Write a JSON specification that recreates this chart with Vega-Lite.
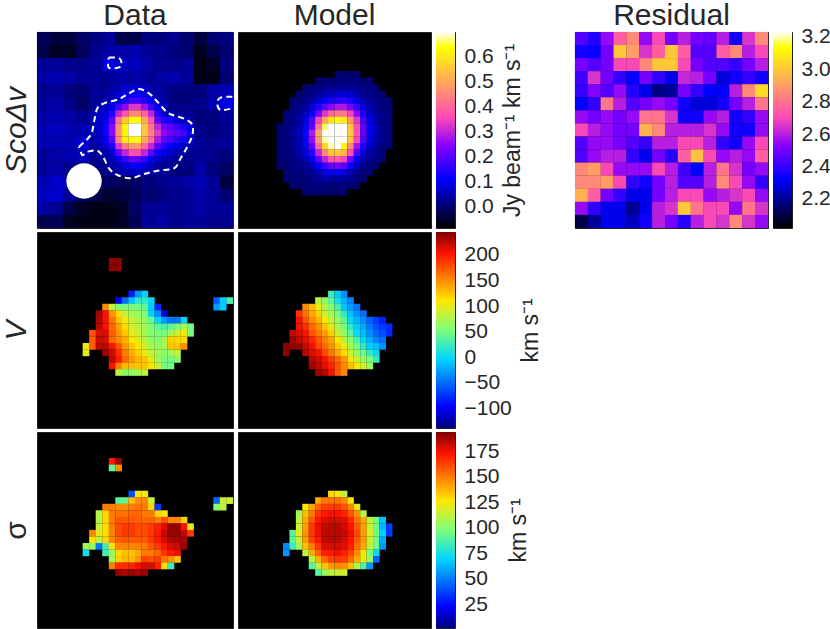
{"$schema":"https://vega.github.io/schema/vega-lite/v6.json","padding":0,"background":"white",
"datasets":{
"bar0":[{"a":-0.088,"b":0.7}],"barr":[{"a":2.02,"b":3.23}],"barv":[{"a":-139,"b":245}],"bars":[{"a":1.5,"b":194}],
"beam":[{"x":6.7,"y":22.3}],
"contour":[{"c":1,"o":1,"x":5.93,"y":17.05},{"c":1,"o":2,"x":7.72,"y":15.27},{"c":1,"o":3,"x":8.23,"y":13.23},{"c":1,"o":4,"x":8.74,"y":11.18},{"c":1,"o":5,"x":9.76,"y":10.42},{"c":1,"o":6,"x":12.05,"y":9.76},{"c":1,"o":7,"x":13.58,"y":8.89},{"c":1,"o":8,"x":15.11,"y":8.23},{"c":1,"o":9,"x":16.64,"y":8.89},{"c":1,"o":10,"x":17.92,"y":10.16},{"c":1,"o":11,"x":19.2,"y":11.59},{"c":1,"o":12,"x":20.22,"y":12.2},{"c":1,"o":13,"x":22.26,"y":12.87},{"c":1,"o":14,"x":23.28,"y":13.74},{"c":1,"o":15,"x":23.28,"y":15.27},{"c":1,"o":16,"x":22.51,"y":17.05},{"c":1,"o":17,"x":21.49,"y":18.84},{"c":1,"o":18,"x":20.47,"y":20.37},{"c":1,"o":19,"x":17.92,"y":20.73},{"c":1,"o":20,"x":15.88,"y":21.24},{"c":1,"o":21,"x":13.84,"y":21.9},{"c":1,"o":22,"x":11.8,"y":21.39},{"c":1,"o":23,"x":10.52,"y":20.37},{"c":1,"o":24,"x":9.61,"y":18.58},{"c":1,"o":25,"x":8.74,"y":17.66},{"c":1,"o":26,"x":7.21,"y":17.82},{"c":1,"o":27,"x":6.44,"y":18.33},{"c":1,"o":28,"x":5.93,"y":17.05},
{"c":2,"o":1,"x":10.5,"y":3.4},{"c":2,"o":2,"x":12.15,"y":3.55},{"c":2,"o":3,"x":12.3,"y":4.8},{"c":2,"o":4,"x":10.5,"y":4.96},{"c":2,"o":5,"x":10.5,"y":3.4},
{"c":3,"o":1,"x":29.4,"y":9.4},{"c":3,"o":2,"x":27.6,"y":9.55},{"c":3,"o":3,"x":27.1,"y":10.42},{"c":3,"o":4,"x":27.6,"y":11.44},{"c":3,"o":5,"x":29.4,"y":11.18}],
"mom0c":[
{"x":0.5,"y":0.5,"v":-0.02},{"x":2.5,"y":0.5,"v":-0.04},{"x":4.5,"y":0.5,"v":-0.04},{"x":6.5,"y":0.5,"v":-0.01},{"x":8.5,"y":0.5,"v":0.01},{"x":10.5,"y":0.5,"v":0.03},{"x":12.5,"y":0.5,"v":-0.03},{"x":14.5,"y":0.5,"v":-0.03},{"x":16.5,"y":0.5,"v":0.01},{"x":18.5,"y":0.5,"v":0.01},{"x":20.5,"y":0.5,"v":0.02},{"x":22.5,"y":0.5,"v":0},{"x":24.5,"y":0.5,"v":-0.04},{"x":26.5,"y":0.5,"v":0},{"x":28.5,"y":0.5,"v":0.01},
{"x":0.5,"y":2.5,"v":-0.03},{"x":2.5,"y":2.5,"v":-0.06},{"x":4.5,"y":2.5,"v":-0.06},{"x":6.5,"y":2.5,"v":-0.02},{"x":8.5,"y":2.5,"v":0.02},{"x":10.5,"y":2.5,"v":0.04},{"x":12.5,"y":2.5,"v":0.04},{"x":14.5,"y":2.5,"v":0.05},{"x":16.5,"y":2.5,"v":0.03},{"x":18.5,"y":2.5,"v":0.02},{"x":20.5,"y":2.5,"v":0.01},{"x":22.5,"y":2.5,"v":0},{"x":24.5,"y":2.5,"v":-0.06},{"x":26.5,"y":2.5,"v":-0.03},{"x":28.5,"y":2.5,"v":0},
{"x":0.5,"y":4.5,"v":0.03},{"x":2.5,"y":4.5,"v":0.03},{"x":4.5,"y":4.5,"v":0.02},{"x":6.5,"y":4.5,"v":0.02},{"x":8.5,"y":4.5,"v":0.03},{"x":10.5,"y":4.5,"v":0.09},{"x":12.5,"y":4.5,"v":0.06},{"x":14.5,"y":4.5,"v":0.06},{"x":16.5,"y":4.5,"v":0.04},{"x":18.5,"y":4.5,"v":0.02},{"x":20.5,"y":4.5,"v":0.02},{"x":22.5,"y":4.5,"v":0.03},{"x":24.5,"y":4.5,"v":-0.07},{"x":26.5,"y":4.5,"v":-0.06},{"x":28.5,"y":4.5,"v":0.01},
{"x":0.5,"y":6.5,"v":0.04},{"x":2.5,"y":6.5,"v":0.05},{"x":4.5,"y":6.5,"v":0.04},{"x":6.5,"y":6.5,"v":0.03},{"x":8.5,"y":6.5,"v":0.03},{"x":10.5,"y":6.5,"v":0.03},{"x":12.5,"y":6.5,"v":0.04},{"x":14.5,"y":6.5,"v":0.04},{"x":16.5,"y":6.5,"v":0.03},{"x":18.5,"y":6.5,"v":0.04},{"x":20.5,"y":6.5,"v":0.05},{"x":22.5,"y":6.5,"v":0.03},{"x":24.5,"y":6.5,"v":-0.07},{"x":26.5,"y":6.5,"v":-0.07},{"x":28.5,"y":6.5,"v":0},
{"x":0.5,"y":8.5,"v":0.02},{"x":2.5,"y":8.5,"v":0.03},{"x":4.5,"y":8.5,"v":0.01},{"x":6.5,"y":8.5,"v":0},{"x":24.5,"y":8.5,"v":0.01},{"x":26.5,"y":8.5,"v":0.04},{"x":28.5,"y":8.5,"v":0.05},
{"x":0.5,"y":10.5,"v":0.03},{"x":2.5,"y":10.5,"v":0.04},{"x":4.5,"y":10.5,"v":0.02},{"x":6.5,"y":10.5,"v":-0.01},{"x":24.5,"y":10.5,"v":0.02},{"x":26.5,"y":10.5,"v":0.05},{"x":28.5,"y":10.5,"v":0.09},
{"x":0.5,"y":12.5,"v":0.04},{"x":2.5,"y":12.5,"v":0.05},{"x":4.5,"y":12.5,"v":0.04},{"x":6.5,"y":12.5,"v":0.03},{"x":24.5,"y":12.5,"v":0.01},{"x":26.5,"y":12.5,"v":0.01},{"x":28.5,"y":12.5,"v":0.03},
{"x":0.5,"y":14.5,"v":0.05},{"x":2.5,"y":14.5,"v":0.06},{"x":4.5,"y":14.5,"v":0.05},{"x":6.5,"y":14.5,"v":0.05},{"x":24.5,"y":14.5,"v":0.02},{"x":26.5,"y":14.5,"v":0.01},{"x":28.5,"y":14.5,"v":0.02},
{"x":0.5,"y":16.5,"v":0.05},{"x":2.5,"y":16.5,"v":0.05},{"x":4.5,"y":16.5,"v":0.05},{"x":6.5,"y":16.5,"v":0.08},{"x":24.5,"y":16.5,"v":0.03},{"x":26.5,"y":16.5,"v":0.02},{"x":28.5,"y":16.5,"v":0.03},
{"x":0.5,"y":18.5,"v":0.03},{"x":2.5,"y":18.5,"v":0.04},{"x":4.5,"y":18.5,"v":0.05},{"x":6.5,"y":18.5,"v":0.06},{"x":24.5,"y":18.5,"v":0.03},{"x":26.5,"y":18.5,"v":0.02},{"x":28.5,"y":18.5,"v":0.01},
{"x":0.5,"y":20.5,"v":0.03},{"x":2.5,"y":20.5,"v":0.04},{"x":4.5,"y":20.5,"v":0.02},{"x":6.5,"y":20.5,"v":0.01},{"x":24.5,"y":20.5,"v":0.04},{"x":26.5,"y":20.5,"v":0.01},{"x":28.5,"y":20.5,"v":-0.01},
{"x":0.5,"y":22.5,"v":0.05},{"x":2.5,"y":22.5,"v":0.07},{"x":4.5,"y":22.5,"v":0.05},{"x":6.5,"y":22.5,"v":0.02},{"x":8.5,"y":22.5,"v":0},{"x":10.5,"y":22.5,"v":-0.01},{"x":12.5,"y":22.5,"v":-0.02},{"x":14.5,"y":22.5,"v":-0.01},{"x":16.5,"y":22.5,"v":0.01},{"x":18.5,"y":22.5,"v":0.02},{"x":20.5,"y":22.5,"v":0.03},{"x":22.5,"y":22.5,"v":0.04},{"x":24.5,"y":22.5,"v":0.05},{"x":26.5,"y":22.5,"v":0.03},{"x":28.5,"y":22.5,"v":-0.04},
{"x":0.5,"y":24.5,"v":0.06},{"x":2.5,"y":24.5,"v":0.07},{"x":4.5,"y":24.5,"v":0.03},{"x":6.5,"y":24.5,"v":-0.01},{"x":8.5,"y":24.5,"v":-0.03},{"x":10.5,"y":24.5,"v":-0.05},{"x":12.5,"y":24.5,"v":-0.04},{"x":14.5,"y":24.5,"v":-0.02},{"x":16.5,"y":24.5,"v":0},{"x":18.5,"y":24.5,"v":0.01},{"x":20.5,"y":24.5,"v":0.02},{"x":22.5,"y":24.5,"v":0.03},{"x":24.5,"y":24.5,"v":0.04},{"x":26.5,"y":24.5,"v":0.03},{"x":28.5,"y":24.5,"v":0},
{"x":0.5,"y":26.5,"v":0.04},{"x":2.5,"y":26.5,"v":0.02},{"x":4.5,"y":26.5,"v":-0.03},{"x":6.5,"y":26.5,"v":-0.06},{"x":8.5,"y":26.5,"v":-0.07},{"x":10.5,"y":26.5,"v":-0.07},{"x":12.5,"y":26.5,"v":-0.06},{"x":14.5,"y":26.5,"v":-0.01},{"x":16.5,"y":26.5,"v":0.03},{"x":18.5,"y":26.5,"v":0.03},{"x":20.5,"y":26.5,"v":0.02},{"x":22.5,"y":26.5,"v":0.03},{"x":24.5,"y":26.5,"v":0.04},{"x":26.5,"y":26.5,"v":0.03},{"x":28.5,"y":26.5,"v":0.03},
{"x":0.5,"y":28.5,"v":-0.03},{"x":2.5,"y":28.5,"v":-0.02},{"x":4.5,"y":28.5,"v":-0.06},{"x":6.5,"y":28.5,"v":-0.07},{"x":8.5,"y":28.5,"v":-0.07},{"x":10.5,"y":28.5,"v":-0.07},{"x":12.5,"y":28.5,"v":-0.06},{"x":14.5,"y":28.5,"v":-0.02},{"x":16.5,"y":28.5,"v":0.03},{"x":18.5,"y":28.5,"v":0.04},{"x":20.5,"y":28.5,"v":0.02},{"x":22.5,"y":28.5,"v":0.03},{"x":24.5,"y":28.5,"v":0.03},{"x":26.5,"y":28.5,"v":0.02},{"x":28.5,"y":28.5,"v":0.02}],
"mom0f":[
{"x":8,"y":8,"v":0.03},{"x":9,"y":8,"v":0.03},{"x":10,"y":8,"v":0.03},{"x":11,"y":8,"v":0.04},{"x":12,"y":8,"v":0.05},{"x":13,"y":8,"v":0.07},{"x":14,"y":8,"v":0.08},{"x":15,"y":8,"v":0.08},{"x":16,"y":8,"v":0.07},{"x":17,"y":8,"v":0.05},{"x":18,"y":8,"v":0.04},{"x":19,"y":8,"v":0.03},{"x":20,"y":8,"v":0.02},{"x":21,"y":8,"v":0.02},{"x":22,"y":8,"v":0.02},{"x":23,"y":8,"v":0.01},
{"x":8,"y":9,"v":0.03},{"x":9,"y":9,"v":0.03},{"x":10,"y":9,"v":0.04},{"x":11,"y":9,"v":0.05},{"x":12,"y":9,"v":0.07},{"x":13,"y":9,"v":0.09},{"x":14,"y":9,"v":0.11},{"x":15,"y":9,"v":0.11},{"x":16,"y":9,"v":0.09},{"x":17,"y":9,"v":0.06},{"x":18,"y":9,"v":0.04},{"x":19,"y":9,"v":0.03},{"x":20,"y":9,"v":0.02},{"x":21,"y":9,"v":0.01},{"x":22,"y":9,"v":0.01},{"x":23,"y":9,"v":0.01},
{"x":8,"y":10,"v":0.03},{"x":9,"y":10,"v":0.03},{"x":10,"y":10,"v":0.05},{"x":11,"y":10,"v":0.07},{"x":12,"y":10,"v":0.09},{"x":13,"y":10,"v":0.13},{"x":14,"y":10,"v":0.17},{"x":15,"y":10,"v":0.17},{"x":16,"y":10,"v":0.14},{"x":17,"y":10,"v":0.11},{"x":18,"y":10,"v":0.07},{"x":19,"y":10,"v":0.04},{"x":20,"y":10,"v":0.02},{"x":21,"y":10,"v":0.01},{"x":22,"y":10,"v":0.01},{"x":23,"y":10,"v":0.01},
{"x":8,"y":11,"v":0.03},{"x":9,"y":11,"v":0.05},{"x":10,"y":11,"v":0.07},{"x":11,"y":11,"v":0.09},{"x":12,"y":11,"v":0.18},{"x":13,"y":11,"v":0.25},{"x":14,"y":11,"v":0.33},{"x":15,"y":11,"v":0.33},{"x":16,"y":11,"v":0.27},{"x":17,"y":11,"v":0.17},{"x":18,"y":11,"v":0.1},{"x":19,"y":11,"v":0.06},{"x":20,"y":11,"v":0.03},{"x":21,"y":11,"v":0.02},{"x":22,"y":11,"v":0.02},{"x":23,"y":11,"v":0.02},
{"x":8,"y":12,"v":0.04},{"x":9,"y":12,"v":0.06},{"x":10,"y":12,"v":0.09},{"x":11,"y":12,"v":0.14},{"x":12,"y":12,"v":0.3},{"x":13,"y":12,"v":0.37},{"x":14,"y":12,"v":0.45},{"x":15,"y":12,"v":0.45},{"x":16,"y":12,"v":0.4},{"x":17,"y":12,"v":0.3},{"x":18,"y":12,"v":0.15},{"x":19,"y":12,"v":0.07},{"x":20,"y":12,"v":0.05},{"x":21,"y":12,"v":0.04},{"x":22,"y":12,"v":0.03},{"x":23,"y":12,"v":0.03},
{"x":8,"y":13,"v":0.05},{"x":9,"y":13,"v":0.07},{"x":10,"y":13,"v":0.1},{"x":11,"y":13,"v":0.2},{"x":12,"y":13,"v":0.42},{"x":13,"y":13,"v":0.55},{"x":14,"y":13,"v":0.63},{"x":15,"y":13,"v":0.63},{"x":16,"y":13,"v":0.5},{"x":17,"y":13,"v":0.37},{"x":18,"y":13,"v":0.2},{"x":19,"y":13,"v":0.14},{"x":20,"y":13,"v":0.12},{"x":21,"y":13,"v":0.08},{"x":22,"y":13,"v":0.06},{"x":23,"y":13,"v":0.04},
{"x":8,"y":14,"v":0.05},{"x":9,"y":14,"v":0.07},{"x":10,"y":14,"v":0.12},{"x":11,"y":14,"v":0.25},{"x":12,"y":14,"v":0.47},{"x":13,"y":14,"v":0.62},{"x":14,"y":14,"v":0.7},{"x":15,"y":14,"v":0.7},{"x":16,"y":14,"v":0.55},{"x":17,"y":14,"v":0.42},{"x":18,"y":14,"v":0.3},{"x":19,"y":14,"v":0.22},{"x":20,"y":14,"v":0.2},{"x":21,"y":14,"v":0.17},{"x":22,"y":14,"v":0.13},{"x":23,"y":14,"v":0.08},
{"x":8,"y":15,"v":0.05},{"x":9,"y":15,"v":0.07},{"x":10,"y":15,"v":0.12},{"x":11,"y":15,"v":0.25},{"x":12,"y":15,"v":0.47},{"x":13,"y":15,"v":0.62},{"x":14,"y":15,"v":0.7},{"x":15,"y":15,"v":0.7},{"x":16,"y":15,"v":0.55},{"x":17,"y":15,"v":0.44},{"x":18,"y":15,"v":0.33},{"x":19,"y":15,"v":0.25},{"x":20,"y":15,"v":0.22},{"x":21,"y":15,"v":0.2},{"x":22,"y":15,"v":0.17},{"x":23,"y":15,"v":0.1},
{"x":8,"y":16,"v":0.04},{"x":9,"y":16,"v":0.06},{"x":10,"y":16,"v":0.1},{"x":11,"y":16,"v":0.2},{"x":12,"y":16,"v":0.45},{"x":13,"y":16,"v":0.6},{"x":14,"y":16,"v":0.63},{"x":15,"y":16,"v":0.63},{"x":16,"y":16,"v":0.5},{"x":17,"y":16,"v":0.4},{"x":18,"y":16,"v":0.28},{"x":19,"y":16,"v":0.2},{"x":20,"y":16,"v":0.18},{"x":21,"y":16,"v":0.15},{"x":22,"y":16,"v":0.12},{"x":23,"y":16,"v":0.07},
{"x":8,"y":17,"v":0.03},{"x":9,"y":17,"v":0.05},{"x":10,"y":17,"v":0.08},{"x":11,"y":17,"v":0.14},{"x":12,"y":17,"v":0.32},{"x":13,"y":17,"v":0.42},{"x":14,"y":17,"v":0.47},{"x":15,"y":17,"v":0.47},{"x":16,"y":17,"v":0.4},{"x":17,"y":17,"v":0.3},{"x":18,"y":17,"v":0.2},{"x":19,"y":17,"v":0.14},{"x":20,"y":17,"v":0.11},{"x":21,"y":17,"v":0.09},{"x":22,"y":17,"v":0.07},{"x":23,"y":17,"v":0.04},
{"x":8,"y":18,"v":0.03},{"x":9,"y":18,"v":0.03},{"x":10,"y":18,"v":0.05},{"x":11,"y":18,"v":0.08},{"x":12,"y":18,"v":0.2},{"x":13,"y":18,"v":0.3},{"x":14,"y":18,"v":0.36},{"x":15,"y":18,"v":0.36},{"x":16,"y":18,"v":0.3},{"x":17,"y":18,"v":0.2},{"x":18,"y":18,"v":0.12},{"x":19,"y":18,"v":0.09},{"x":20,"y":18,"v":0.07},{"x":21,"y":18,"v":0.05},{"x":22,"y":18,"v":0.04},{"x":23,"y":18,"v":0.03},
{"x":8,"y":19,"v":0.02},{"x":9,"y":19,"v":0.03},{"x":10,"y":19,"v":0.04},{"x":11,"y":19,"v":0.05},{"x":12,"y":19,"v":0.1},{"x":13,"y":19,"v":0.16},{"x":14,"y":19,"v":0.21},{"x":15,"y":19,"v":0.2},{"x":16,"y":19,"v":0.16},{"x":17,"y":19,"v":0.1},{"x":18,"y":19,"v":0.07},{"x":19,"y":19,"v":0.05},{"x":20,"y":19,"v":0.04},{"x":21,"y":19,"v":0.03},{"x":22,"y":19,"v":0.02},{"x":23,"y":19,"v":0.02},
{"x":8,"y":20,"v":0.02},{"x":9,"y":20,"v":0.02},{"x":10,"y":20,"v":0.03},{"x":11,"y":20,"v":0.04},{"x":12,"y":20,"v":0.05},{"x":13,"y":20,"v":0.08},{"x":14,"y":20,"v":0.11},{"x":15,"y":20,"v":0.11},{"x":16,"y":20,"v":0.08},{"x":17,"y":20,"v":0.06},{"x":18,"y":20,"v":0.04},{"x":19,"y":20,"v":0.03},{"x":20,"y":20,"v":0.03},{"x":21,"y":20,"v":0.02},{"x":22,"y":20,"v":0.02},{"x":23,"y":20,"v":0.01},
{"x":8,"y":21,"v":0},{"x":9,"y":21,"v":0.01},{"x":10,"y":21,"v":0.02},{"x":11,"y":21,"v":0.03},{"x":12,"y":21,"v":0.04},{"x":13,"y":21,"v":0.05},{"x":14,"y":21,"v":0.06},{"x":15,"y":21,"v":0.06},{"x":16,"y":21,"v":0.05},{"x":17,"y":21,"v":0.04},{"x":18,"y":21,"v":0.03},{"x":19,"y":21,"v":0.03},{"x":20,"y":21,"v":0.02},{"x":21,"y":21,"v":0.01},{"x":22,"y":21,"v":0.01},{"x":23,"y":21,"v":0}],
"mom0m":[
{"x":15,"y":6,"v":0},{"x":16,"y":6,"v":0},{"x":17,"y":6,"v":0},{"x":18,"y":6,"v":0},
{"x":12,"y":7,"v":0},{"x":13,"y":7,"v":0},{"x":14,"y":7,"v":0.01},{"x":15,"y":7,"v":0.01},{"x":16,"y":7,"v":0.01},{"x":17,"y":7,"v":0.01},{"x":18,"y":7,"v":0.01},{"x":19,"y":7,"v":0},{"x":20,"y":7,"v":0},
{"x":10,"y":8,"v":0},{"x":11,"y":8,"v":0.01},{"x":12,"y":8,"v":0.01},{"x":13,"y":8,"v":0.02},{"x":14,"y":8,"v":0.03},{"x":15,"y":8,"v":0.03},{"x":16,"y":8,"v":0.03},{"x":17,"y":8,"v":0.03},{"x":18,"y":8,"v":0.02},{"x":19,"y":8,"v":0.02},{"x":20,"y":8,"v":0.01},{"x":21,"y":8,"v":0},
{"x":9,"y":9,"v":0},{"x":10,"y":9,"v":0.01},{"x":11,"y":9,"v":0.02},{"x":12,"y":9,"v":0.03},{"x":13,"y":9,"v":0.05},{"x":14,"y":9,"v":0.07},{"x":15,"y":9,"v":0.08},{"x":16,"y":9,"v":0.08},{"x":17,"y":9,"v":0.07},{"x":18,"y":9,"v":0.05},{"x":19,"y":9,"v":0.03},{"x":20,"y":9,"v":0.02},{"x":21,"y":9,"v":0.01},{"x":22,"y":9,"v":0},
{"x":8,"y":10,"v":0},{"x":9,"y":10,"v":0.01},{"x":10,"y":10,"v":0.02},{"x":11,"y":10,"v":0.04},{"x":12,"y":10,"v":0.07},{"x":13,"y":10,"v":0.1},{"x":14,"y":10,"v":0.13},{"x":15,"y":10,"v":0.15},{"x":16,"y":10,"v":0.15},{"x":17,"y":10,"v":0.13},{"x":18,"y":10,"v":0.09},{"x":19,"y":10,"v":0.06},{"x":20,"y":10,"v":0.03},{"x":21,"y":10,"v":0.02},{"x":22,"y":10,"v":0.01},{"x":23,"y":10,"v":0},
{"x":8,"y":11,"v":0.01},{"x":9,"y":11,"v":0.02},{"x":10,"y":11,"v":0.04},{"x":11,"y":11,"v":0.08},{"x":12,"y":11,"v":0.14},{"x":13,"y":11,"v":0.2},{"x":14,"y":11,"v":0.25},{"x":15,"y":11,"v":0.28},{"x":16,"y":11,"v":0.28},{"x":17,"y":11,"v":0.23},{"x":18,"y":11,"v":0.16},{"x":19,"y":11,"v":0.09},{"x":20,"y":11,"v":0.05},{"x":21,"y":11,"v":0.02},{"x":22,"y":11,"v":0.01},{"x":23,"y":11,"v":0.01},
{"x":7,"y":12,"v":0},{"x":8,"y":12,"v":0.01},{"x":9,"y":12,"v":0.03},{"x":10,"y":12,"v":0.06},{"x":11,"y":12,"v":0.12},{"x":12,"y":12,"v":0.22},{"x":13,"y":12,"v":0.33},{"x":14,"y":12,"v":0.4},{"x":15,"y":12,"v":0.43},{"x":16,"y":12,"v":0.43},{"x":17,"y":12,"v":0.35},{"x":18,"y":12,"v":0.25},{"x":19,"y":12,"v":0.14},{"x":20,"y":12,"v":0.07},{"x":21,"y":12,"v":0.03},{"x":22,"y":12,"v":0.02},{"x":23,"y":12,"v":0.01},
{"x":7,"y":13,"v":0.01},{"x":8,"y":13,"v":0.02},{"x":9,"y":13,"v":0.04},{"x":10,"y":13,"v":0.09},{"x":11,"y":13,"v":0.18},{"x":12,"y":13,"v":0.35},{"x":13,"y":13,"v":0.5},{"x":14,"y":13,"v":0.6},{"x":15,"y":13,"v":0.63},{"x":16,"y":13,"v":0.6},{"x":17,"y":13,"v":0.48},{"x":18,"y":13,"v":0.33},{"x":19,"y":13,"v":0.18},{"x":20,"y":13,"v":0.09},{"x":21,"y":13,"v":0.04},{"x":22,"y":13,"v":0.02},{"x":23,"y":13,"v":0.01},
{"x":6,"y":14,"v":0},{"x":7,"y":14,"v":0.01},{"x":8,"y":14,"v":0.02},{"x":9,"y":14,"v":0.05},{"x":10,"y":14,"v":0.1},{"x":11,"y":14,"v":0.2},{"x":12,"y":14,"v":0.42},{"x":13,"y":14,"v":0.66},{"x":14,"y":14,"v":0.7},{"x":15,"y":14,"v":0.72},{"x":16,"y":14,"v":0.7},{"x":17,"y":14,"v":0.55},{"x":18,"y":14,"v":0.36},{"x":19,"y":14,"v":0.21},{"x":20,"y":14,"v":0.1},{"x":21,"y":14,"v":0.05},{"x":22,"y":14,"v":0.02},{"x":23,"y":14,"v":0.01},
{"x":6,"y":15,"v":0},{"x":7,"y":15,"v":0.01},{"x":8,"y":15,"v":0.03},{"x":9,"y":15,"v":0.06},{"x":10,"y":15,"v":0.12},{"x":11,"y":15,"v":0.28},{"x":12,"y":15,"v":0.5},{"x":13,"y":15,"v":0.7},{"x":14,"y":15,"v":0.72},{"x":15,"y":15,"v":0.75},{"x":16,"y":15,"v":0.72},{"x":17,"y":15,"v":0.56},{"x":18,"y":15,"v":0.37},{"x":19,"y":15,"v":0.21},{"x":20,"y":15,"v":0.1},{"x":21,"y":15,"v":0.05},{"x":22,"y":15,"v":0.02},{"x":23,"y":15,"v":0.01},
{"x":6,"y":16,"v":0},{"x":7,"y":16,"v":0.01},{"x":8,"y":16,"v":0.02},{"x":9,"y":16,"v":0.05},{"x":10,"y":16,"v":0.11},{"x":11,"y":16,"v":0.26},{"x":12,"y":16,"v":0.48},{"x":13,"y":16,"v":0.68},{"x":14,"y":16,"v":0.7},{"x":15,"y":16,"v":0.74},{"x":16,"y":16,"v":0.71},{"x":17,"y":16,"v":0.55},{"x":18,"y":16,"v":0.35},{"x":19,"y":16,"v":0.19},{"x":20,"y":16,"v":0.09},{"x":21,"y":16,"v":0.04},{"x":22,"y":16,"v":0.02},{"x":23,"y":16,"v":0.01},
{"x":6,"y":17,"v":0},{"x":7,"y":17,"v":0.01},{"x":8,"y":17,"v":0.02},{"x":9,"y":17,"v":0.05},{"x":10,"y":17,"v":0.1},{"x":11,"y":17,"v":0.2},{"x":12,"y":17,"v":0.4},{"x":13,"y":17,"v":0.58},{"x":14,"y":17,"v":0.68},{"x":15,"y":17,"v":0.7},{"x":16,"y":17,"v":0.62},{"x":17,"y":17,"v":0.45},{"x":18,"y":17,"v":0.27},{"x":19,"y":17,"v":0.14},{"x":20,"y":17,"v":0.07},{"x":21,"y":17,"v":0.03},{"x":22,"y":17,"v":0.01},{"x":23,"y":17,"v":0},
{"x":6,"y":18,"v":0},{"x":7,"y":18,"v":0.01},{"x":8,"y":18,"v":0.02},{"x":9,"y":18,"v":0.04},{"x":10,"y":18,"v":0.08},{"x":11,"y":18,"v":0.15},{"x":12,"y":18,"v":0.3},{"x":13,"y":18,"v":0.45},{"x":14,"y":18,"v":0.55},{"x":15,"y":18,"v":0.55},{"x":16,"y":18,"v":0.52},{"x":17,"y":18,"v":0.36},{"x":18,"y":18,"v":0.19},{"x":19,"y":18,"v":0.09},{"x":20,"y":18,"v":0.04},{"x":21,"y":18,"v":0.02},{"x":22,"y":18,"v":0.01},
{"x":6,"y":19,"v":0},{"x":7,"y":19,"v":0.01},{"x":8,"y":19,"v":0.01},{"x":9,"y":19,"v":0.03},{"x":10,"y":19,"v":0.06},{"x":11,"y":19,"v":0.1},{"x":12,"y":19,"v":0.2},{"x":13,"y":19,"v":0.3},{"x":14,"y":19,"v":0.37},{"x":15,"y":19,"v":0.38},{"x":16,"y":19,"v":0.35},{"x":17,"y":19,"v":0.22},{"x":18,"y":19,"v":0.11},{"x":19,"y":19,"v":0.05},{"x":20,"y":19,"v":0.03},{"x":21,"y":19,"v":0.01},{"x":22,"y":19,"v":0},
{"x":6,"y":20,"v":0},{"x":7,"y":20,"v":0},{"x":8,"y":20,"v":0.01},{"x":9,"y":20,"v":0.02},{"x":10,"y":20,"v":0.03},{"x":11,"y":20,"v":0.06},{"x":12,"y":20,"v":0.11},{"x":13,"y":20,"v":0.17},{"x":14,"y":20,"v":0.21},{"x":15,"y":20,"v":0.23},{"x":16,"y":20,"v":0.2},{"x":17,"y":20,"v":0.12},{"x":18,"y":20,"v":0.06},{"x":19,"y":20,"v":0.03},{"x":20,"y":20,"v":0.01},{"x":21,"y":20,"v":0},
{"x":7,"y":21,"v":0},{"x":8,"y":21,"v":0.01},{"x":9,"y":21,"v":0.01},{"x":10,"y":21,"v":0.02},{"x":11,"y":21,"v":0.03},{"x":12,"y":21,"v":0.05},{"x":13,"y":21,"v":0.08},{"x":14,"y":21,"v":0.1},{"x":15,"y":21,"v":0.1},{"x":16,"y":21,"v":0.08},{"x":17,"y":21,"v":0.05},{"x":18,"y":21,"v":0.03},{"x":19,"y":21,"v":0.01},{"x":20,"y":21,"v":0},
{"x":7,"y":22,"v":0},{"x":8,"y":22,"v":0},{"x":9,"y":22,"v":0.01},{"x":10,"y":22,"v":0.01},{"x":11,"y":22,"v":0.02},{"x":12,"y":22,"v":0.03},{"x":13,"y":22,"v":0.04},{"x":14,"y":22,"v":0.04},{"x":15,"y":22,"v":0.04},{"x":16,"y":22,"v":0.03},{"x":17,"y":22,"v":0.02},{"x":18,"y":22,"v":0.01},{"x":19,"y":22,"v":0},
{"x":8,"y":23,"v":0},{"x":9,"y":23,"v":0},{"x":10,"y":23,"v":0.01},{"x":11,"y":23,"v":0.01},{"x":12,"y":23,"v":0.01},{"x":13,"y":23,"v":0.01},{"x":14,"y":23,"v":0.01},{"x":15,"y":23,"v":0.01},{"x":16,"y":23,"v":0.01},{"x":17,"y":23,"v":0},{"x":18,"y":23,"v":0},
{"x":10,"y":24,"v":0},{"x":11,"y":24,"v":0},{"x":12,"y":24,"v":0},{"x":13,"y":24,"v":0},{"x":14,"y":24,"v":0},{"x":15,"y":24,"v":0},{"x":16,"y":24,"v":0}],
"res":[
{"x":0.5,"y":0.5,"v":2.45},{"x":2.5,"y":0.5,"v":2.38},{"x":4.5,"y":0.5,"v":2.55},{"x":6.5,"y":0.5,"v":2.75},{"x":8.5,"y":0.5,"v":2.85},{"x":10.5,"y":0.5,"v":2.55},{"x":12.5,"y":0.5,"v":2.7},{"x":14.5,"y":0.5,"v":2.5},{"x":16.5,"y":0.5,"v":2.6},{"x":18.5,"y":0.5,"v":2.5},{"x":20.5,"y":0.5,"v":2.48},{"x":22.5,"y":0.5,"v":2.6},{"x":24.5,"y":0.5,"v":2.35},{"x":26.5,"y":0.5,"v":2.65},{"x":28.5,"y":0.5,"v":2.85},
{"x":0.5,"y":2.5,"v":2.35},{"x":2.5,"y":2.5,"v":2.33},{"x":4.5,"y":2.5,"v":2.5},{"x":6.5,"y":2.5,"v":3.0},{"x":8.5,"y":2.5,"v":2.9},{"x":10.5,"y":2.5,"v":2.65},{"x":12.5,"y":2.5,"v":2.75},{"x":14.5,"y":2.5,"v":3.0},{"x":16.5,"y":2.5,"v":2.75},{"x":18.5,"y":2.5,"v":2.45},{"x":20.5,"y":2.5,"v":2.45},{"x":22.5,"y":2.5,"v":2.75},{"x":24.5,"y":2.5,"v":2.85},{"x":26.5,"y":2.5,"v":2.6},{"x":28.5,"y":2.5,"v":2.7},
{"x":0.5,"y":4.5,"v":2.5},{"x":2.5,"y":4.5,"v":2.45},{"x":4.5,"y":4.5,"v":2.5},{"x":6.5,"y":4.5,"v":2.7},{"x":8.5,"y":4.5,"v":2.7},{"x":10.5,"y":4.5,"v":2.85},{"x":12.5,"y":4.5,"v":3.0},{"x":14.5,"y":4.5,"v":3.0},{"x":16.5,"y":4.5,"v":2.7},{"x":18.5,"y":4.5,"v":2.5},{"x":20.5,"y":4.5,"v":2.45},{"x":22.5,"y":4.5,"v":2.45},{"x":24.5,"y":4.5,"v":2.4},{"x":26.5,"y":4.5,"v":2.5},{"x":28.5,"y":4.5,"v":2.6},
{"x":0.5,"y":6.5,"v":2.42},{"x":2.5,"y":6.5,"v":2.65},{"x":4.5,"y":6.5,"v":2.5},{"x":6.5,"y":6.5,"v":2.4},{"x":8.5,"y":6.5,"v":2.33},{"x":10.5,"y":6.5,"v":2.5},{"x":12.5,"y":6.5,"v":2.4},{"x":14.5,"y":6.5,"v":2.3},{"x":16.5,"y":6.5,"v":2.62},{"x":18.5,"y":6.5,"v":2.6},{"x":20.5,"y":6.5,"v":2.5},{"x":22.5,"y":6.5,"v":2.28},{"x":24.5,"y":6.5,"v":2.35},{"x":26.5,"y":6.5,"v":2.4},{"x":28.5,"y":6.5,"v":2.35},
{"x":0.5,"y":8.5,"v":2.4},{"x":2.5,"y":8.5,"v":2.52},{"x":4.5,"y":8.5,"v":2.45},{"x":6.5,"y":8.5,"v":2.55},{"x":8.5,"y":8.5,"v":2.38},{"x":10.5,"y":8.5,"v":2.3},{"x":12.5,"y":8.5,"v":2.18},{"x":14.5,"y":8.5,"v":2.2},{"x":16.5,"y":8.5,"v":2.5},{"x":18.5,"y":8.5,"v":2.4},{"x":20.5,"y":8.5,"v":2.32},{"x":22.5,"y":8.5,"v":2.32},{"x":24.5,"y":8.5,"v":2.6},{"x":26.5,"y":8.5,"v":2.85},{"x":28.5,"y":8.5,"v":3.05},
{"x":0.5,"y":10.5,"v":2.32},{"x":2.5,"y":10.5,"v":2.4},{"x":4.5,"y":10.5,"v":2.8},{"x":6.5,"y":10.5,"v":2.6},{"x":8.5,"y":10.5,"v":2.45},{"x":10.5,"y":10.5,"v":2.5},{"x":12.5,"y":10.5,"v":2.55},{"x":14.5,"y":10.5,"v":2.5},{"x":16.5,"y":10.5,"v":2.35},{"x":18.5,"y":10.5,"v":2.28},{"x":20.5,"y":10.5,"v":2.28},{"x":22.5,"y":10.5,"v":2.35},{"x":24.5,"y":10.5,"v":2.5},{"x":26.5,"y":10.5,"v":2.6},{"x":28.5,"y":10.5,"v":2.8},
{"x":0.5,"y":12.5,"v":2.55},{"x":2.5,"y":12.5,"v":2.5},{"x":4.5,"y":12.5,"v":2.55},{"x":6.5,"y":12.5,"v":2.5},{"x":8.5,"y":12.5,"v":2.55},{"x":10.5,"y":12.5,"v":2.8},{"x":12.5,"y":12.5,"v":2.8},{"x":14.5,"y":12.5,"v":2.65},{"x":16.5,"y":12.5,"v":2.35},{"x":18.5,"y":12.5,"v":2.35},{"x":20.5,"y":12.5,"v":2.55},{"x":22.5,"y":12.5,"v":2.6},{"x":24.5,"y":12.5,"v":2.35},{"x":26.5,"y":12.5,"v":2.4},{"x":28.5,"y":12.5,"v":2.55},
{"x":0.5,"y":14.5,"v":2.7},{"x":2.5,"y":14.5,"v":2.6},{"x":4.5,"y":14.5,"v":2.55},{"x":6.5,"y":14.5,"v":2.5},{"x":8.5,"y":14.5,"v":2.5},{"x":10.5,"y":14.5,"v":2.95},{"x":12.5,"y":14.5,"v":2.85},{"x":14.5,"y":14.5,"v":2.6},{"x":16.5,"y":14.5,"v":2.6},{"x":18.5,"y":14.5,"v":2.6},{"x":20.5,"y":14.5,"v":2.65},{"x":22.5,"y":14.5,"v":2.55},{"x":24.5,"y":14.5,"v":2.35},{"x":26.5,"y":14.5,"v":2.35},{"x":28.5,"y":14.5,"v":2.55},
{"x":0.5,"y":16.5,"v":2.45},{"x":2.5,"y":16.5,"v":2.55},{"x":4.5,"y":16.5,"v":2.55},{"x":6.5,"y":16.5,"v":2.5},{"x":8.5,"y":16.5,"v":2.45},{"x":10.5,"y":16.5,"v":2.4},{"x":12.5,"y":16.5,"v":2.6},{"x":14.5,"y":16.5,"v":2.6},{"x":16.5,"y":16.5,"v":2.7},{"x":18.5,"y":16.5,"v":2.7},{"x":20.5,"y":16.5,"v":2.6},{"x":22.5,"y":16.5,"v":2.4},{"x":24.5,"y":16.5,"v":2.35},{"x":26.5,"y":16.5,"v":2.55},{"x":28.5,"y":16.5,"v":2.7},
{"x":0.5,"y":18.5,"v":2.45},{"x":2.5,"y":18.5,"v":2.55},{"x":4.5,"y":18.5,"v":2.6},{"x":6.5,"y":18.5,"v":2.6},{"x":8.5,"y":18.5,"v":2.4},{"x":10.5,"y":18.5,"v":2.3},{"x":12.5,"y":18.5,"v":2.5},{"x":14.5,"y":18.5,"v":2.38},{"x":16.5,"y":18.5,"v":2.75},{"x":18.5,"y":18.5,"v":2.98},{"x":20.5,"y":18.5,"v":2.7},{"x":22.5,"y":18.5,"v":2.55},{"x":24.5,"y":18.5,"v":2.6},{"x":26.5,"y":18.5,"v":2.55},{"x":28.5,"y":18.5,"v":2.75},
{"x":0.5,"y":20.5,"v":2.85},{"x":2.5,"y":20.5,"v":2.9},{"x":4.5,"y":20.5,"v":2.7},{"x":6.5,"y":20.5,"v":2.55},{"x":8.5,"y":20.5,"v":2.55},{"x":10.5,"y":20.5,"v":2.55},{"x":12.5,"y":20.5,"v":2.7},{"x":14.5,"y":20.5,"v":2.6},{"x":16.5,"y":20.5,"v":2.42},{"x":18.5,"y":20.5,"v":2.32},{"x":20.5,"y":20.5,"v":2.6},{"x":22.5,"y":20.5,"v":2.8},{"x":24.5,"y":20.5,"v":2.65},{"x":26.5,"y":20.5,"v":2.5},{"x":28.5,"y":20.5,"v":2.55},
{"x":0.5,"y":22.5,"v":2.85},{"x":2.5,"y":22.5,"v":2.85},{"x":4.5,"y":22.5,"v":2.9},{"x":6.5,"y":22.5,"v":2.7},{"x":8.5,"y":22.5,"v":2.4},{"x":10.5,"y":22.5,"v":2.35},{"x":12.5,"y":22.5,"v":2.5},{"x":14.5,"y":22.5,"v":2.6},{"x":16.5,"y":22.5,"v":2.45},{"x":18.5,"y":22.5,"v":2.45},{"x":20.5,"y":22.5,"v":2.6},{"x":22.5,"y":22.5,"v":2.85},{"x":24.5,"y":22.5,"v":2.7},{"x":26.5,"y":22.5,"v":2.55},{"x":28.5,"y":22.5,"v":2.4},
{"x":0.5,"y":24.5,"v":2.95},{"x":2.5,"y":24.5,"v":2.75},{"x":4.5,"y":24.5,"v":2.5},{"x":6.5,"y":24.5,"v":2.4},{"x":8.5,"y":24.5,"v":2.3},{"x":10.5,"y":24.5,"v":2.3},{"x":12.5,"y":24.5,"v":2.5},{"x":14.5,"y":24.5,"v":2.6},{"x":16.5,"y":24.5,"v":2.7},{"x":18.5,"y":24.5,"v":2.7},{"x":20.5,"y":24.5,"v":2.55},{"x":22.5,"y":24.5,"v":2.6},{"x":24.5,"y":24.5,"v":2.65},{"x":26.5,"y":24.5,"v":2.7},{"x":28.5,"y":24.5,"v":2.55},
{"x":0.5,"y":26.5,"v":2.55},{"x":2.5,"y":26.5,"v":2.4},{"x":4.5,"y":26.5,"v":2.3},{"x":6.5,"y":26.5,"v":2.3},{"x":8.5,"y":26.5,"v":2.2},{"x":10.5,"y":26.5,"v":2.3},{"x":12.5,"y":26.5,"v":2.6},{"x":14.5,"y":26.5,"v":2.65},{"x":16.5,"y":26.5,"v":3.0},{"x":18.5,"y":26.5,"v":2.8},{"x":20.5,"y":26.5,"v":2.7},{"x":22.5,"y":26.5,"v":2.7},{"x":24.5,"y":26.5,"v":2.55},{"x":26.5,"y":26.5,"v":2.8},{"x":28.5,"y":26.5,"v":2.65},
{"x":0.5,"y":28.5,"v":2.1},{"x":2.5,"y":28.5,"v":2.2},{"x":4.5,"y":28.5,"v":2.3},{"x":6.5,"y":28.5,"v":2.3},{"x":8.5,"y":28.5,"v":2.25},{"x":10.5,"y":28.5,"v":2.35},{"x":12.5,"y":28.5,"v":2.6},{"x":14.5,"y":28.5,"v":2.5},{"x":16.5,"y":28.5,"v":2.38},{"x":18.5,"y":28.5,"v":2.6},{"x":20.5,"y":28.5,"v":2.7},{"x":22.5,"y":28.5,"v":2.65},{"x":24.5,"y":28.5,"v":2.85},{"x":26.5,"y":28.5,"v":2.65},{"x":28.5,"y":28.5,"v":2.55}],
"obs":[
{"x":11,"y":4,"v":240,"s":172},{"x":12,"y":4,"v":240,"s":190},{"x":11,"y":5,"v":240,"s":92},{"x":12,"y":5,"v":240,"s":146},
{"x":27,"y":10,"v":-58,"s":45},{"x":28,"y":10,"v":-8,"s":115},{"x":29,"y":10,"v":30,"s":115},{"x":27,"y":11,"v":-30,"s":100},{"x":28,"y":11,"v":-8,"s":112},
{"x":14,"y":9,"v":-85,"s":40},{"x":15,"y":9,"v":-30,"s":125},{"x":16,"y":9,"v":-5,"s":125},
{"x":12,"y":10,"v":-97,"s":90},{"x":13,"y":10,"v":-50,"s":92},{"x":14,"y":10,"v":-12,"s":135},{"x":15,"y":10,"v":20,"s":145},{"x":16,"y":10,"v":20,"s":147},{"x":17,"y":10,"v":-5,"s":115},
{"x":10,"y":11,"v":150,"s":150},{"x":11,"y":11,"v":80,"s":150},{"x":12,"y":11,"v":55,"s":146},{"x":13,"y":11,"v":50,"s":146},{"x":14,"y":11,"v":50,"s":150},{"x":15,"y":11,"v":50,"s":152},{"x":16,"y":11,"v":40,"s":150},{"x":17,"y":11,"v":-8,"s":130},{"x":18,"y":11,"v":-80,"s":35},
{"x":9,"y":12,"v":235,"s":110},{"x":10,"y":12,"v":205,"s":130},{"x":11,"y":12,"v":145,"s":150},{"x":12,"y":12,"v":115,"s":152},{"x":13,"y":12,"v":85,"s":152},{"x":14,"y":12,"v":70,"s":155},{"x":15,"y":12,"v":65,"s":155},{"x":16,"y":12,"v":55,"s":150},{"x":17,"y":12,"v":-5,"s":150},{"x":18,"y":12,"v":-35,"s":130},{"x":19,"y":12,"v":-110,"s":125},
{"x":9,"y":13,"v":230,"s":110},{"x":10,"y":13,"v":205,"s":130},{"x":11,"y":13,"v":160,"s":150},{"x":12,"y":13,"v":125,"s":158},{"x":13,"y":13,"v":105,"s":158},{"x":14,"y":13,"v":85,"s":158},{"x":15,"y":13,"v":75,"s":156},{"x":16,"y":13,"v":62,"s":155},{"x":17,"y":13,"v":45,"s":155},{"x":18,"y":13,"v":-5,"s":150},{"x":19,"y":13,"v":-30,"s":160},{"x":20,"y":13,"v":-45,"s":148},{"x":21,"y":13,"v":-45,"s":148},{"x":22,"y":13,"v":-5,"s":132},
{"x":9,"y":14,"v":225,"s":115},{"x":10,"y":14,"v":205,"s":128},{"x":11,"y":14,"v":165,"s":150},{"x":12,"y":14,"v":140,"s":160},{"x":13,"y":14,"v":115,"s":165},{"x":14,"y":14,"v":90,"s":165},{"x":15,"y":14,"v":80,"s":160},{"x":16,"y":14,"v":70,"s":160},{"x":17,"y":14,"v":55,"s":165},{"x":18,"y":14,"v":40,"s":170},{"x":19,"y":14,"v":30,"s":178},{"x":20,"y":14,"v":40,"s":190},{"x":21,"y":14,"v":55,"s":190},{"x":22,"y":14,"v":72,"s":174},{"x":23,"y":14,"v":50,"s":122},
{"x":8,"y":15,"v":175,"s":148},{"x":9,"y":15,"v":215,"s":120},{"x":10,"y":15,"v":215,"s":128},{"x":11,"y":15,"v":170,"s":148},{"x":12,"y":15,"v":145,"s":160},{"x":13,"y":15,"v":125,"s":165},{"x":14,"y":15,"v":100,"s":165},{"x":15,"y":15,"v":85,"s":160},{"x":16,"y":15,"v":70,"s":160},{"x":17,"y":15,"v":58,"s":165},{"x":18,"y":15,"v":55,"s":172},{"x":19,"y":15,"v":50,"s":183},{"x":20,"y":15,"v":72,"s":190},{"x":21,"y":15,"v":90,"s":190},{"x":22,"y":15,"v":105,"s":183},{"x":23,"y":15,"v":50,"s":165},
{"x":8,"y":16,"v":170,"s":128},{"x":9,"y":16,"v":220,"s":112},{"x":10,"y":16,"v":215,"s":130},{"x":11,"y":16,"v":165,"s":148},{"x":12,"y":16,"v":150,"s":155},{"x":13,"y":16,"v":135,"s":158},{"x":14,"y":16,"v":110,"s":158},{"x":15,"y":16,"v":95,"s":158},{"x":16,"y":16,"v":78,"s":158},{"x":17,"y":16,"v":62,"s":165},{"x":18,"y":16,"v":58,"s":172},{"x":19,"y":16,"v":70,"s":180},{"x":20,"y":16,"v":120,"s":187},{"x":21,"y":16,"v":115,"s":187},{"x":22,"y":16,"v":115,"s":187},
{"x":7,"y":17,"v":105,"s":105},{"x":8,"y":17,"v":170,"s":105},{"x":9,"y":17,"v":225,"s":48},{"x":10,"y":17,"v":225,"s":85},{"x":11,"y":17,"v":205,"s":128},{"x":12,"y":17,"v":175,"s":148},{"x":13,"y":17,"v":145,"s":148},{"x":14,"y":17,"v":125,"s":148},{"x":15,"y":17,"v":110,"s":148},{"x":16,"y":17,"v":90,"s":150},{"x":17,"y":17,"v":72,"s":158},{"x":18,"y":17,"v":65,"s":165},{"x":19,"y":17,"v":75,"s":172},{"x":20,"y":17,"v":125,"s":180},{"x":21,"y":17,"v":125,"s":182},{"x":22,"y":17,"v":150,"s":190},
{"x":7,"y":18,"v":100,"s":75},{"x":10,"y":18,"v":235,"s":85},{"x":11,"y":18,"v":220,"s":105},{"x":12,"y":18,"v":190,"s":130},{"x":13,"y":18,"v":155,"s":135},{"x":14,"y":18,"v":135,"s":135},{"x":15,"y":18,"v":120,"s":140},{"x":16,"y":18,"v":100,"s":150},{"x":17,"y":18,"v":85,"s":150},{"x":18,"y":18,"v":72,"s":155},{"x":19,"y":18,"v":58,"s":165},{"x":20,"y":18,"v":70,"s":172},{"x":21,"y":18,"v":85,"s":175},
{"x":11,"y":19,"v":225,"s":105},{"x":12,"y":19,"v":200,"s":132},{"x":13,"y":19,"v":165,"s":137},{"x":14,"y":19,"v":145,"s":137},{"x":15,"y":19,"v":130,"s":145},{"x":16,"y":19,"v":125,"s":163},{"x":17,"y":19,"v":100,"s":160},{"x":18,"y":19,"v":70,"s":163},{"x":19,"y":19,"v":50,"s":150},{"x":20,"y":19,"v":50,"s":145},{"x":21,"y":19,"v":60,"s":135},
{"x":11,"y":20,"v":205,"s":150},{"x":12,"y":20,"v":155,"s":168},{"x":13,"y":20,"v":130,"s":168},{"x":14,"y":20,"v":130,"s":170},{"x":15,"y":20,"v":125,"s":175},{"x":16,"y":20,"v":125,"s":180},{"x":17,"y":20,"v":108,"s":180},{"x":18,"y":20,"v":85,"s":170},{"x":19,"y":20,"v":50,"s":128},{"x":20,"y":20,"v":48,"s":85},
{"x":12,"y":21,"v":80,"s":190},{"x":13,"y":21,"v":62,"s":186},{"x":14,"y":21,"v":62,"s":190},{"x":15,"y":21,"v":70,"s":188},{"x":16,"y":21,"v":85,"s":190}],
"mod":[
{"x":14,"y":9,"v":25,"s":130},{"x":15,"y":9,"v":-8,"s":125},{"x":16,"y":9,"v":-35,"s":112},
{"x":12,"y":10,"v":80,"s":140},{"x":13,"y":10,"v":62,"s":150},{"x":14,"y":10,"v":38,"s":152},{"x":15,"y":10,"v":5,"s":152},{"x":16,"y":10,"v":-20,"s":147},{"x":17,"y":10,"v":-40,"s":125},
{"x":10,"y":11,"v":150,"s":125},{"x":11,"y":11,"v":130,"s":142},{"x":12,"y":11,"v":100,"s":155},{"x":13,"y":11,"v":78,"s":163},{"x":14,"y":11,"v":58,"s":165},{"x":15,"y":11,"v":30,"s":165},{"x":16,"y":11,"v":-12,"s":158},{"x":17,"y":11,"v":-28,"s":148},{"x":18,"y":11,"v":-48,"s":122},
{"x":9,"y":12,"v":190,"s":105},{"x":10,"y":12,"v":160,"s":135},{"x":11,"y":12,"v":138,"s":150},{"x":12,"y":12,"v":118,"s":166},{"x":13,"y":12,"v":85,"s":172},{"x":14,"y":12,"v":70,"s":174},{"x":15,"y":12,"v":50,"s":174},{"x":16,"y":12,"v":20,"s":170},{"x":17,"y":12,"v":-12,"s":158},{"x":18,"y":12,"v":-33,"s":146},{"x":19,"y":12,"v":-48,"s":112},
{"x":9,"y":13,"v":205,"s":112},{"x":10,"y":13,"v":175,"s":140},{"x":11,"y":13,"v":150,"s":158},{"x":12,"y":13,"v":132,"s":172},{"x":13,"y":13,"v":110,"s":178},{"x":14,"y":13,"v":85,"s":180},{"x":15,"y":13,"v":65,"s":180},{"x":16,"y":13,"v":38,"s":178},{"x":17,"y":13,"v":0,"s":168},{"x":18,"y":13,"v":-18,"s":153},{"x":19,"y":13,"v":-35,"s":140},{"x":20,"y":13,"v":-55,"s":112},{"x":21,"y":13,"v":-70,"s":95},{"x":22,"y":13,"v":-85,"s":65},
{"x":9,"y":14,"v":205,"s":115},{"x":10,"y":14,"v":190,"s":142},{"x":11,"y":14,"v":165,"s":165},{"x":12,"y":14,"v":148,"s":175},{"x":13,"y":14,"v":125,"s":183},{"x":14,"y":14,"v":100,"s":184},{"x":15,"y":14,"v":72,"s":184},{"x":16,"y":14,"v":50,"s":180},{"x":17,"y":14,"v":20,"s":172},{"x":18,"y":14,"v":-8,"s":158},{"x":19,"y":14,"v":-22,"s":142},{"x":20,"y":14,"v":-45,"s":115},{"x":21,"y":14,"v":-62,"s":95},{"x":22,"y":14,"v":-72,"s":62},{"x":23,"y":14,"v":-80,"s":35},
{"x":8,"y":15,"v":225,"s":90},{"x":9,"y":15,"v":215,"s":120},{"x":10,"y":15,"v":205,"s":145},{"x":11,"y":15,"v":175,"s":165},{"x":12,"y":15,"v":158,"s":175},{"x":13,"y":15,"v":143,"s":184},{"x":14,"y":15,"v":120,"s":184},{"x":15,"y":15,"v":85,"s":184},{"x":16,"y":15,"v":62,"s":183},{"x":17,"y":15,"v":38,"s":175},{"x":18,"y":15,"v":0,"s":162},{"x":19,"y":15,"v":-15,"s":143},{"x":20,"y":15,"v":-35,"s":118},{"x":21,"y":15,"v":-55,"s":97},{"x":22,"y":15,"v":-62,"s":68},{"x":23,"y":15,"v":-80,"s":35},
{"x":8,"y":16,"v":235,"s":90},{"x":9,"y":16,"v":222,"s":115},{"x":10,"y":16,"v":212,"s":143},{"x":11,"y":16,"v":195,"s":163},{"x":12,"y":16,"v":172,"s":172},{"x":13,"y":16,"v":155,"s":183},{"x":14,"y":16,"v":138,"s":184},{"x":15,"y":16,"v":110,"s":184},{"x":16,"y":16,"v":78,"s":180},{"x":17,"y":16,"v":58,"s":172},{"x":18,"y":16,"v":30,"s":158},{"x":19,"y":16,"v":-3,"s":143},{"x":20,"y":16,"v":-20,"s":115},{"x":21,"y":16,"v":-40,"s":95},{"x":22,"y":16,"v":-48,"s":60},
{"x":7,"y":17,"v":240,"s":52},{"x":8,"y":17,"v":240,"s":85},{"x":9,"y":17,"v":238,"s":105},{"x":10,"y":17,"v":222,"s":135},{"x":11,"y":17,"v":208,"s":150},{"x":12,"y":17,"v":182,"s":165},{"x":13,"y":17,"v":165,"s":178},{"x":14,"y":17,"v":148,"s":180},{"x":15,"y":17,"v":122,"s":180},{"x":16,"y":17,"v":100,"s":178},{"x":17,"y":17,"v":72,"s":170},{"x":18,"y":17,"v":50,"s":153},{"x":19,"y":17,"v":20,"s":140},{"x":20,"y":17,"v":-8,"s":112},{"x":21,"y":17,"v":-15,"s":95},{"x":22,"y":17,"v":-33,"s":55},
{"x":7,"y":18,"v":240,"s":55},{"x":10,"y":18,"v":228,"s":112},{"x":11,"y":18,"v":215,"s":140},{"x":12,"y":18,"v":205,"s":155},{"x":13,"y":18,"v":178,"s":170},{"x":14,"y":18,"v":158,"s":172},{"x":15,"y":18,"v":138,"s":175},{"x":16,"y":18,"v":115,"s":170},{"x":17,"y":18,"v":88,"s":162},{"x":18,"y":18,"v":65,"s":147},{"x":19,"y":18,"v":45,"s":125},{"x":20,"y":18,"v":20,"s":97},{"x":21,"y":18,"v":0,"s":72},
{"x":11,"y":19,"v":228,"s":110},{"x":12,"y":19,"v":220,"s":138},{"x":13,"y":19,"v":205,"s":153},{"x":14,"y":19,"v":185,"s":163},{"x":15,"y":19,"v":165,"s":165},{"x":16,"y":19,"v":145,"s":163},{"x":17,"y":19,"v":108,"s":153},{"x":18,"y":19,"v":88,"s":140},{"x":19,"y":19,"v":65,"s":122},{"x":20,"y":19,"v":52,"s":105},{"x":21,"y":19,"v":22,"s":45},
{"x":11,"y":20,"v":235,"s":90},{"x":12,"y":20,"v":225,"s":112},{"x":13,"y":20,"v":212,"s":135},{"x":14,"y":20,"v":195,"s":143},{"x":15,"y":20,"v":175,"s":147},{"x":16,"y":20,"v":150,"s":145},{"x":17,"y":20,"v":128,"s":135},{"x":18,"y":20,"v":108,"s":108},{"x":19,"y":20,"v":88,"s":88},{"x":20,"y":20,"v":65,"s":55},
{"x":12,"y":21,"v":235,"s":90},{"x":13,"y":21,"v":228,"s":105},{"x":14,"y":21,"v":205,"s":112},{"x":15,"y":21,"v":172,"s":115},{"x":16,"y":21,"v":150,"s":117}]
},
"config":{"font":"Liberation Sans","view":{"stroke":"#222","fill":"#000"},"axis":{"grid":false,"labelColor":"#262626","titleColor":"#262626","titleFontWeight":"normal"},"title":{"fontSize":30,"fontWeight":"normal","color":"#262626","offset":1}},
"resolve":{"scale":{"color":"independent"}},
"spacing":31,
"hconcat":[
{"spacing":2,"resolve":{"scale":{"color":"independent"}},"vconcat":[
{"spacing":3,"resolve":{"scale":{"color":"independent"}},"hconcat":[
{"width":196,"height":196,"title":"Data","layer":[
{"data":{"name":"mom0c"},"mark":{"type":"rect","width":13.2,"height":13.2},"encoding":{"x":{"field":"x","type":"quantitative","axis":null,"scale":{"domain":[-0.5,29.5],"nice":false,"zero":false}},"y":{"field":"y","type":"quantitative","title":"SᴄᴏΔv","axis":{"labels":false,"ticks":false,"domain":false,"titleFontSize":30,"titleFontStyle":"italic","titlePadding":6},"scale":{"domain":[29.5,-0.5],"nice":false,"zero":false}},"color":{"field":"v","type":"quantitative","legend":null,"scale":{"domain":[-0.088,0.109,0.243,0.361,0.637,0.7],"range":["#000000","#0000ff","#8700ff","#ff4db3","#ffff00","#ffffff"],"interpolate":"rgb","clamp":true}}}},
{"data":{"name":"mom0f"},"mark":{"type":"rect","width":6.7,"height":6.7},"encoding":{"x":{"field":"x","type":"quantitative"},"y":{"field":"y","type":"quantitative"},"color":{"field":"v","type":"quantitative"}}},
{"data":{"name":"beam"},"mark":{"type":"point","filled":true,"shape":"circle","color":"white","opacity":1,"size":1250},"encoding":{"x":{"field":"x","type":"quantitative"},"y":{"field":"y","type":"quantitative"}}},
{"data":{"name":"contour"},"mark":{"type":"line","color":"white","strokeWidth":2,"strokeDash":[6,4],"interpolate":"cardinal","clip":true},"encoding":{"x":{"field":"x","type":"quantitative"},"y":{"field":"y","type":"quantitative"},"detail":{"field":"c"},"order":{"field":"o"}}}]},
{"width":193,"height":196,"title":"Model","data":{"name":"mom0m"},"mark":{"type":"rect","width":6.5,"height":6.7},"encoding":{"x":{"field":"x","type":"quantitative","axis":null,"scale":{"domain":[-0.5,29.5],"nice":false,"zero":false}},"y":{"field":"y","type":"quantitative","axis":null,"scale":{"domain":[29.5,-0.5],"nice":false,"zero":false}},"color":{"field":"v","type":"quantitative","legend":null,"scale":{"domain":[-0.088,0.109,0.243,0.361,0.637,0.7],"range":["#000000","#0000ff","#8700ff","#ff4db3","#ffff00","#ffffff"],"interpolate":"rgb","clamp":true}}}},
{"width":19,"height":196,"data":{"name":"bar0"},"mark":{"type":"rect","color":{"gradient":"linear","x1":0,"y1":1,"x2":0,"y2":0,"stops":[{"offset":0,"color":"#000000"},{"offset":0.25,"color":"#0000ff"},{"offset":0.42,"color":"#8700ff"},{"offset":0.57,"color":"#ff4db3"},{"offset":0.92,"color":"#ffff00"},{"offset":1,"color":"#ffffff"}]}},"encoding":{"x":{"value":0},"x2":{"value":19},"y":{"field":"a","type":"quantitative","title":"Jy beam⁻¹ km s⁻¹","scale":{"domain":[-0.088,0.7],"nice":false,"zero":false},"axis":{"orient":"right","values":[0,0.1,0.2,0.3,0.4,0.5,0.6],"format":".1f","ticks":false,"domain":false,"labelFontSize":21,"labelPadding":9,"titleFontSize":23,"titleAngle":270,"titleBaseline":"top","titlePadding":8}},"y2":{"field":"b"}}}]},
{"spacing":3,"resolve":{"scale":{"color":"independent"}},"hconcat":[
{"width":196,"height":196,"data":{"name":"obs"},"mark":{"type":"rect","width":6.7,"height":6.7},"encoding":{"x":{"field":"x","type":"quantitative","axis":null,"scale":{"domain":[-0.5,29.5],"nice":false,"zero":false}},"y":{"field":"y","type":"quantitative","title":"V","axis":{"labels":false,"ticks":false,"domain":false,"titleFontSize":30,"titleFontStyle":"italic","titlePadding":6},"scale":{"domain":[29.5,-0.5],"nice":false,"zero":false}},"color":{"field":"v","type":"quantitative","legend":null,"scale":{"domain":[-139,-96.8,-4.6,53,110.6,202.8,245],"range":["#00007f","#0000ff","#00d5ff","#7cff79","#ffe600","#ff1300","#7f0000"],"interpolate":"rgb","clamp":true}}}},
{"width":193,"height":196,"data":{"name":"mod"},"mark":{"type":"rect","width":6.5,"height":6.7},"encoding":{"x":{"field":"x","type":"quantitative","axis":null,"scale":{"domain":[-0.5,29.5],"nice":false,"zero":false}},"y":{"field":"y","type":"quantitative","axis":null,"scale":{"domain":[29.5,-0.5],"nice":false,"zero":false}},"color":{"field":"v","type":"quantitative","legend":null,"scale":{"domain":[-139,-96.8,-4.6,53,110.6,202.8,245],"range":["#00007f","#0000ff","#00d5ff","#7cff79","#ffe600","#ff1300","#7f0000"],"interpolate":"rgb","clamp":true}}}},
{"width":19,"height":196,"data":{"name":"barv"},"mark":{"type":"rect","color":{"gradient":"linear","x1":0,"y1":1,"x2":0,"y2":0,"stops":[{"offset":0,"color":"#00007f"},{"offset":0.11,"color":"#0000ff"},{"offset":0.35,"color":"#00d5ff"},{"offset":0.5,"color":"#7cff79"},{"offset":0.65,"color":"#ffe600"},{"offset":0.89,"color":"#ff1300"},{"offset":1,"color":"#7f0000"}]}},"encoding":{"x":{"value":0},"x2":{"value":19},"y":{"field":"a","type":"quantitative","title":"km s⁻¹","scale":{"domain":[-139,245],"nice":false,"zero":false},"axis":{"orient":"right","values":[-100,-50,0,50,100,150,200],"ticks":false,"domain":false,"labelFontSize":21,"labelPadding":9,"titleFontSize":23,"titleAngle":270,"titleBaseline":"top","titlePadding":8}},"y2":{"field":"b"}}}]},
{"spacing":3,"resolve":{"scale":{"color":"independent"}},"hconcat":[
{"width":196,"height":196,"data":{"name":"obs"},"mark":{"type":"rect","width":6.7,"height":6.7},"encoding":{"x":{"field":"x","type":"quantitative","axis":null,"scale":{"domain":[-0.5,29.5],"nice":false,"zero":false}},"y":{"field":"y","type":"quantitative","title":"σ","axis":{"labels":false,"ticks":false,"domain":false,"titleFontSize":30,"titlePadding":6},"scale":{"domain":[29.5,-0.5],"nice":false,"zero":false}},"color":{"field":"s","type":"quantitative","legend":null,"scale":{"domain":[1.5,22.7,68.9,97.8,126.6,172.8,194],"range":["#00007f","#0000ff","#00d5ff","#7cff79","#ffe600","#ff1300","#7f0000"],"interpolate":"rgb","clamp":true}}}},
{"width":193,"height":196,"data":{"name":"mod"},"mark":{"type":"rect","width":6.5,"height":6.7},"encoding":{"x":{"field":"x","type":"quantitative","axis":null,"scale":{"domain":[-0.5,29.5],"nice":false,"zero":false}},"y":{"field":"y","type":"quantitative","axis":null,"scale":{"domain":[29.5,-0.5],"nice":false,"zero":false}},"color":{"field":"s","type":"quantitative","legend":null,"scale":{"domain":[1.5,22.7,68.9,97.8,126.6,172.8,194],"range":["#00007f","#0000ff","#00d5ff","#7cff79","#ffe600","#ff1300","#7f0000"],"interpolate":"rgb","clamp":true}}}},
{"width":19,"height":196,"data":{"name":"bars"},"mark":{"type":"rect","color":{"gradient":"linear","x1":0,"y1":1,"x2":0,"y2":0,"stops":[{"offset":0,"color":"#00007f"},{"offset":0.11,"color":"#0000ff"},{"offset":0.35,"color":"#00d5ff"},{"offset":0.5,"color":"#7cff79"},{"offset":0.65,"color":"#ffe600"},{"offset":0.89,"color":"#ff1300"},{"offset":1,"color":"#7f0000"}]}},"encoding":{"x":{"value":0},"x2":{"value":19},"y":{"field":"a","type":"quantitative","title":"km s⁻¹","scale":{"domain":[1.5,194],"nice":false,"zero":false},"axis":{"orient":"right","values":[25,50,75,100,125,150,175],"ticks":false,"domain":false,"labelFontSize":21,"labelPadding":9,"titleFontSize":23,"titleAngle":270,"titleBaseline":"top","titlePadding":8}},"y2":{"field":"b"}}}]}
]},
{"spacing":3,"resolve":{"scale":{"color":"independent"}},"hconcat":[
{"width":193,"height":196,"title":"Residual","data":{"name":"res"},"mark":{"type":"rect","width":13.1,"height":13.2},"encoding":{"x":{"field":"x","type":"quantitative","axis":null,"scale":{"domain":[-0.5,29.5],"nice":false,"zero":false}},"y":{"field":"y","type":"quantitative","axis":null,"scale":{"domain":[29.5,-0.5],"nice":false,"zero":false}},"color":{"field":"v","type":"quantitative","legend":null,"scale":{"domain":[2.02,2.3225,2.528,2.71,3.133,3.23],"range":["#000000","#0000ff","#8700ff","#ff4db3","#ffff00","#ffffff"],"interpolate":"rgb","clamp":true}}}},
{"width":19,"height":196,"data":{"name":"barr"},"mark":{"type":"rect","color":{"gradient":"linear","x1":0,"y1":1,"x2":0,"y2":0,"stops":[{"offset":0,"color":"#000000"},{"offset":0.25,"color":"#0000ff"},{"offset":0.42,"color":"#8700ff"},{"offset":0.57,"color":"#ff4db3"},{"offset":0.92,"color":"#ffff00"},{"offset":1,"color":"#ffffff"}]}},"encoding":{"x":{"value":0},"x2":{"value":19},"y":{"field":"a","type":"quantitative","title":null,"scale":{"domain":[2.02,3.23],"nice":false,"zero":false},"axis":{"orient":"right","values":[2.2,2.4,2.6,2.8,3.0,3.2],"format":".1f","ticks":false,"domain":false,"labelFontSize":21,"labelPadding":9}},"y2":{"field":"b"}}}]}
]}
